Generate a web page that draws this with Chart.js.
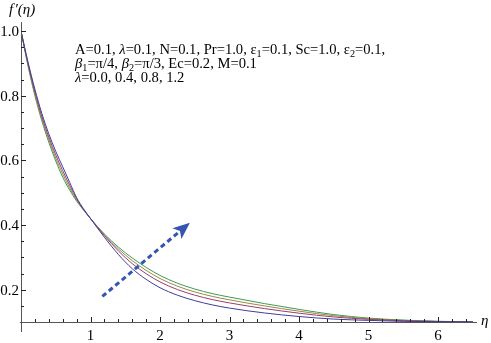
<!DOCTYPE html>
<html><head><meta charset="utf-8">
<script src="https://cdn.jsdelivr.net/npm/chart.js@4/dist/chart.umd.min.js"></script>
<style>
html,body{margin:0;padding:0;background:#fff;}
#wrap{position:relative;width:491px;height:343px;overflow:hidden;}
canvas{position:absolute;left:0;top:0;}
.txt{position:absolute;font-family:'Liberation Serif','DejaVu Serif',serif;color:#000;white-space:nowrap;}
#note{left:75px;top:42px;font-size:14.6px;line-height:14px;}
#note sub{font-size:70%;vertical-align:-0.3em;line-height:0;}
#ylab{left:9px;top:1px;font-size:15px;font-style:italic;}
#xlab{left:481px;top:312px;font-size:15px;font-style:italic;}
</style></head>
<body>
<div id="wrap">
<canvas id="c" width="491" height="343"></canvas>
<div class="txt" id="ylab">f&#8202;′(η)</div>
<div class="txt" id="xlab">η</div>
<div class="txt" id="note">A=0.1, <i>λ</i>=0.1, N=0.1, Pr=1.0, ε<sub>1</sub>=0.1, Sc=1.0, ε<sub>2</sub>=0.1,<br><i>β</i><sub>1</sub>=π/4, <i>β</i><sub>2</sub>=π/3, Ec=0.2, M=0.1<br><i>λ</i>=0.0, 0.4, 0.8, 1.2</div>
</div>
<script>
// ---- data ----
const ETA = [0,0.1,0.2,0.3,0.4,0.5,0.6,0.7,0.8,0.9,1.0,1.2,1.4,1.6,1.8,2.0,2.25,2.5,2.75,3.0,3.5,4.0,4.5,5.0,5.5,6.0,6.5];
const F_LAMBDA_00 = [1,0.905,0.82,0.745,0.682,0.628,0.58,0.532,0.485,0.45,0.42,0.362,0.309,0.265,0.232,0.206,0.183,0.166,0.153,0.143,0.128,0.117,0.109,0.105,0.102,0.101,0.1];
const F_LAMBDA_04 = [1,0.900,0.812,0.736,0.672,0.617,0.568,0.523,0.481,0.448,0.42,0.367,0.320,0.2805,0.2494,0.224,0.2004,0.183,0.1695,0.159,0.1416,0.1273,0.1156,0.1083,0.104,0.1015,0.1];
const F_LAMBDA_08 = [1,0.897,0.806,0.729,0.664,0.607,0.558,0.515,0.477,0.447,0.42,0.3695,0.3263,0.2898,0.2598,0.2345,0.2108,0.193,0.1793,0.1685,0.1498,0.1335,0.1195,0.1103,0.105,0.1018,0.1008];
const F_LAMBDA_12 = [1,0.893,0.80,0.722,0.656,0.598,0.548,0.508,0.474,0.446,0.42,0.372,0.332,0.298,0.269,0.244,0.220,0.202,0.188,0.177,0.157,0.139,0.123,0.112,0.106,0.102,0.101];
const SERIES_LABELS = ['λ=0.0','λ=0.4','λ=0.8','λ=1.2'];
const X_TICKS = [1,2,3,4,5,6];
const Y_TICKS = [0.2,0.4,0.6,0.8,1.0];
const Y_TICK_LABELS = ['0.2','0.4','0.6','0.8','1.0'];
const ARROW_FROM = [1.17,0.179];
const ARROW_TO = [2.43,0.407];

const COLORS = ['#3f3d99','#993d71','#998b3d','#3d9956'];
const SERIES = [F_LAMBDA_00,F_LAMBDA_04,F_LAMBDA_08,F_LAMBDA_12];

const axesPlugin = {
  id:'mmaAxes',
  afterDatasetsDraw(chart){
    const ctx = chart.ctx, xs = chart.scales.x, ys = chart.scales.y;
    const x0 = xs.getPixelForValue(0), yb = ys.getPixelForValue(0.1);
    ctx.save();
    ctx.strokeStyle = '#555'; ctx.lineWidth = 1;
    ctx.beginPath();
    ctx.moveTo(Math.round(x0)-1, Math.round(yb)+0.5); ctx.lineTo(xs.right, Math.round(yb)+0.5);
    ctx.moveTo(Math.round(x0)+0.5, ys.top); ctx.lineTo(Math.round(x0)+0.5, yb+10);
    ctx.stroke();
    ctx.strokeStyle = '#222';
    ctx.beginPath();
    for (let i=1;i<=32;i++){
      const v = i*0.2; if (v > xs.max) break;
      const px = Math.round(xs.getPixelForValue(v))+0.5;
      const major = Math.abs(v-Math.round(v))<1e-6;
      ctx.moveTo(px, yb); ctx.lineTo(px, yb-(major?5:3));
    }
    for (let i=3;i<=20;i++){
      const v = i*0.05;
      const py = Math.round(ys.getPixelForValue(v))+0.5;
      const major = Math.abs(v*5-Math.round(v*5))<1e-6;
      ctx.moveTo(x0, py); ctx.lineTo(x0+(major?5:3), py);
    }
    ctx.stroke();
    ctx.fillStyle = '#000';
    ctx.font = "15px 'Liberation Serif'";
    ctx.textAlign = 'center'; ctx.textBaseline = 'alphabetic';
    X_TICKS.forEach(v=>{ ctx.fillText(String(v), xs.getPixelForValue(v), 340); });
    ctx.textAlign = 'right'; ctx.textBaseline = 'middle';
    Y_TICKS.forEach((v,i)=>{ ctx.fillText(Y_TICK_LABELS[i], x0-2, ys.getPixelForValue(v)+1); });
    const ax = xs.getPixelForValue(ARROW_FROM[0]), ay = ys.getPixelForValue(ARROW_FROM[1]);
    const bx = xs.getPixelForValue(ARROW_TO[0]), by = ys.getPixelForValue(ARROW_TO[1]);
    const ang = Math.atan2(by-ay, bx-ax), head = 17, hw = 7;
    const hx = bx - head*Math.cos(ang), hy = by - head*Math.sin(ang);
    ctx.strokeStyle = '#3355b4'; ctx.fillStyle = '#3355b4';
    ctx.lineWidth = 3; ctx.setLineDash([5,3.5]);
    ctx.beginPath(); ctx.moveTo(ax,ay); ctx.lineTo(hx+3*Math.cos(ang),hy+3*Math.sin(ang)); ctx.stroke();
    ctx.setLineDash([]);
    ctx.beginPath();
    ctx.moveTo(bx,by);
    ctx.lineTo(hx - hw*Math.sin(ang), hy + hw*Math.cos(ang));
    ctx.lineTo(hx + 4*Math.cos(ang), hy + 4*Math.sin(ang));
    ctx.lineTo(hx + hw*Math.sin(ang), hy - hw*Math.cos(ang));
    ctx.closePath(); ctx.fill();
    ctx.restore();
  }
};

new Chart(document.getElementById('c'), {
  type:'line',
  data:{
    labels: ETA,
    datasets: SERIES.map((d,i)=>({
      label: SERIES_LABELS[i],
      data: ETA.map((x,j)=>({x:x,y:d[j]})),
      borderColor: COLORS[i], borderWidth: 1, pointRadius: 0,
      cubicInterpolationMode:'monotone', fill:false
    }))
  },
  options:{
    responsive:false, animation:false, devicePixelRatio:1,
    layout:{padding:{left:21,top:22,right:14,bottom:21}},
    plugins:{legend:{display:false},tooltip:{enabled:false}},
    scales:{
      x:{type:'linear',min:0,max:6.56,display:false},
      y:{type:'linear',min:0.1,max:1.028,display:false}
    }
  },
  plugins:[axesPlugin]
});
</script>
</body></html>
